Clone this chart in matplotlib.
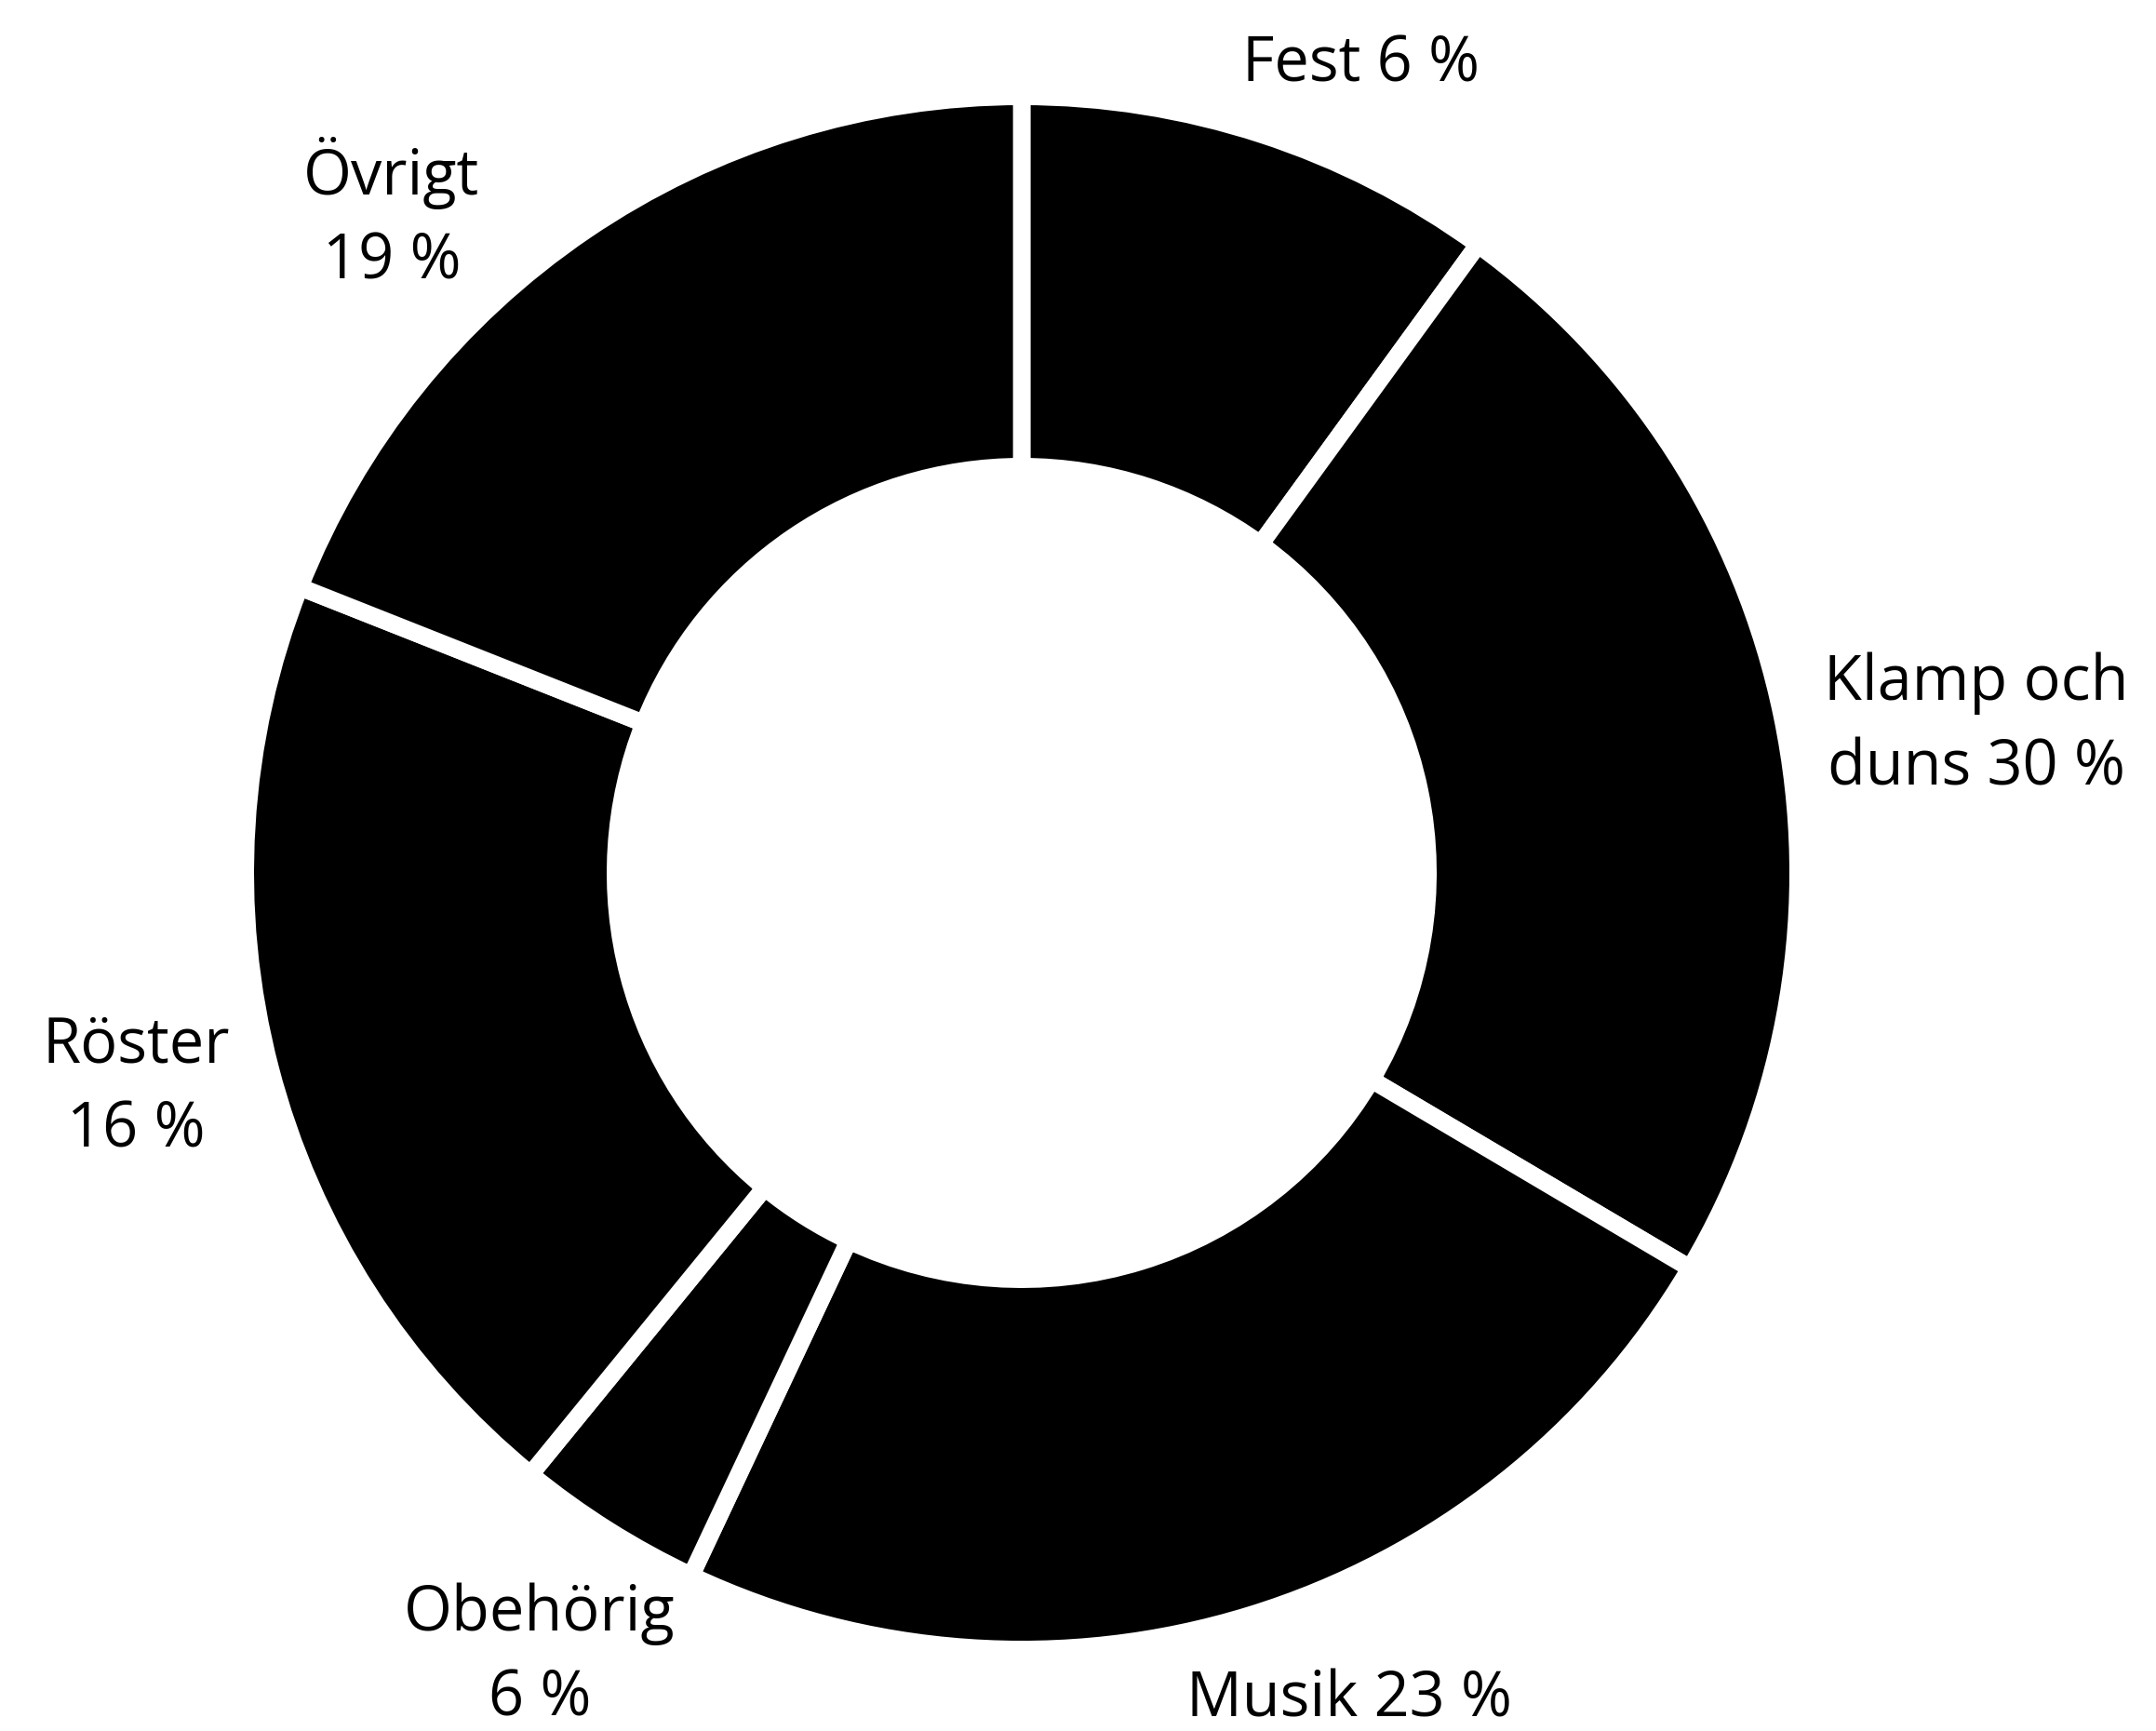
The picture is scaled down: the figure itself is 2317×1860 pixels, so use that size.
import matplotlib
matplotlib.use("Agg")
import matplotlib.pyplot as plt

# Wedge sizes as drawn (the printed percentages do not match the drawing)
categories = ["Fest", "Klamp och duns", "Musik", "Obehörig", "Röster", "Övrigt"]
drawn_share = [10.0, 23.5, 23.5, 3.9, 20.1, 19.0]
label_texts = ["Fest 6 %", "Klamp och\nduns 30 %", "Musik 23 %",
               "Obehörig\n6 %", "Röster\n16 %", "Övrigt\n19 %"]

# figure in pixel units (y measured from the top of the picture)
W, H = 2317, 1860
cx, cy = 1098, 938
r_out, r_in = 825, 446
gap = 13.5  # points, white separator

plt.rcParams['font.family'] = ['Open Sans', 'DejaVu Sans']

fig = plt.figure(figsize=(W / 100, H / 100), dpi=100)
ax = fig.add_axes([0, 0, 1, 1])

gap_px = gap * 100 / 72
ax.pie(drawn_share, startangle=90, counterclock=False,
       colors=["black"] * len(drawn_share),
       center=(cx, H - cy), radius=r_out + gap_px / 2,
       wedgeprops=dict(width=r_out - r_in + gap_px, edgecolor="white",
                       linewidth=gap))

ax.set_xlim(0, W)
ax.set_ylim(0, H)
ax.set_aspect("equal")
ax.axis("off")

# label centres, px from top-left
label_pos = [(1463, 70), (2124, 780), (1450, 1827),
             (580, 1780), (146, 1169), (421, 231)]
for txt, (x, y) in zip(label_texts, label_pos):
    ax.text(x, H - y, txt, ha="center", va="center", fontsize=48,
            linespacing=1.45, color="black")

fig.savefig("out.png", dpi=100, facecolor="white")
